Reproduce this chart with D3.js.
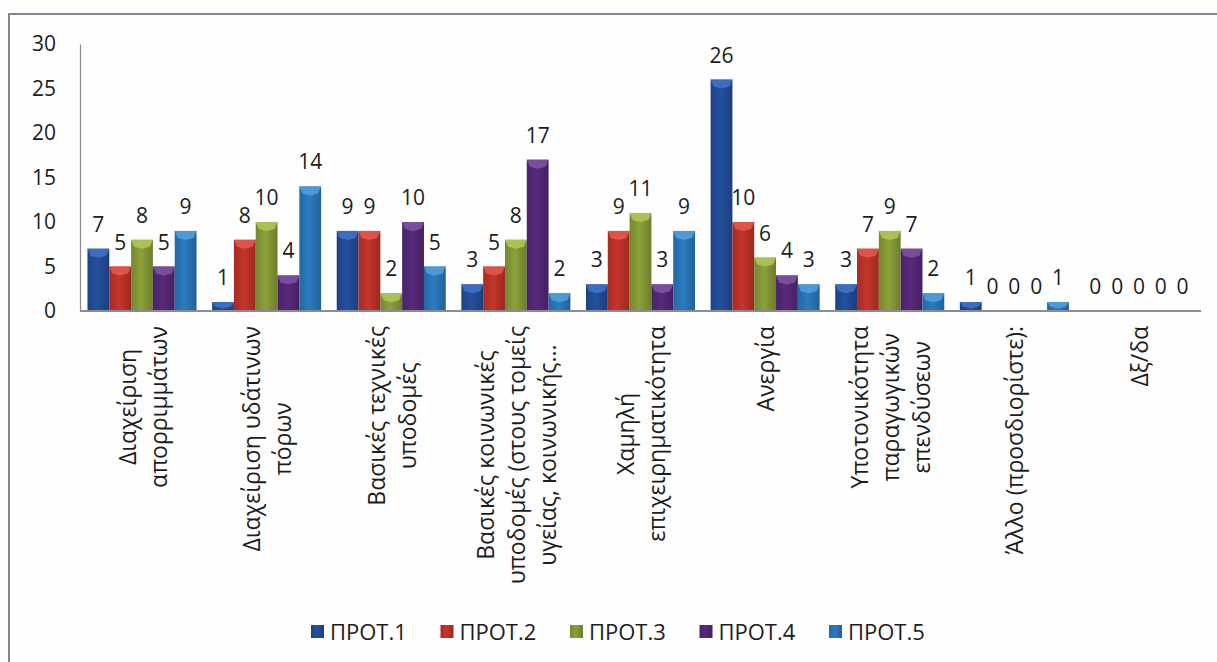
<!DOCTYPE html>
<html lang="el">
<head>
<meta charset="utf-8">
<title>chart</title>
<script src="https://cdn.jsdelivr.net/npm/d3@7/dist/d3.min.js"></script>
<style>
  body { margin: 0; background: #fdfdfd; }
  svg text { font-family: "Open Sans", "Noto Sans", sans-serif; fill: #1c1c1c; font-weight: 500; }
</style>
</head>
<body>
<div id="chart"></div>
<script>
// categories (each entry = lines of the rotated label)
const categories = [
  ["Διαχείριση", "απορριμμάτων"],
  ["Διαχείριση υδάτινων", "πόρων"],
  ["Βασικές τεχνικές", "υποδομές"],
  ["Βασικές κοινωνικές", "υποδομές (στους τομείς", "υγείας, κοινωνικής..."],
  ["Χαμηλή", "επιχειρηματικότητα"],
  ["Ανεργία"],
  ["Υποτονικότητα", "παραγωγικών", "επενδύσεων"],
  ["Άλλο (προσδιορίστε):"],
  ["Δξ/δα"]
];
const seriesNames = ["ΠΡΟΤ.1", "ΠΡΟΤ.2", "ΠΡΟΤ.3", "ΠΡΟΤ.4", "ΠΡΟΤ.5"];
const prot1 = [7, 1, 9, 3, 3, 26, 3, 1, 0];
const prot2 = [5, 8, 9, 5, 9, 10, 7, 0, 0];
const prot3 = [8, 10, 2, 8, 11, 6, 9, 0, 0];
const prot4 = [5, 4, 10, 17, 3, 4, 7, 0, 0];
const prot5 = [9, 14, 5, 2, 9, 3, 2, 1, 0];
const yTicks = [0, 5, 10, 15, 20, 25, 30];

const seriesValues = [prot1, prot2, prot3, prot4, prot5];
const colors = ["#24509f", "#c5352a", "#8ca139", "#58297c", "#2a7cc1"];
const lights = ["#4173c6", "#e35a4d", "#b3c85a", "#8053a6", "#54a0dc"];

const W = 1217, H = 662;
const plotL = 80, plotR = 1201, plotT = 44, plotB = 311;

const svg = d3.select("#chart").append("svg").attr("width", W).attr("height", H);

// scanned frame
svg.append("rect").attr("x", 9).attr("y", 14).attr("width", 1300).attr("height", 800)
  .attr("fill", "#fefefe").attr("stroke", "#8b8393").attr("stroke-width", 2);

const keys = categories.map((c, i) => "c" + i);
const x = d3.scaleBand().domain(keys).range([plotL, plotR]).paddingInner(0.125).paddingOuter(0.06);
const xs = d3.scaleBand().domain(seriesNames).range([0, x.bandwidth()]).padding(0);
const y = d3.scaleLinear().domain([0, 30]).range([plotB, plotT]);

// gradients
const defs = svg.append("defs");
colors.forEach((c, i) => {
  const g = defs.append("linearGradient").attr("id", "g" + i).attr("x1", 0).attr("x2", 1).attr("y1", 0).attr("y2", 0);
  g.append("stop").attr("offset", "0%").attr("stop-color", d3.color(c).darker(0.5));
  g.append("stop").attr("offset", "45%").attr("stop-color", c);
  g.append("stop").attr("offset", "100%").attr("stop-color", d3.color(c).darker(0.7));
});

// y axis
const yAxis = svg.append("g").attr("transform", `translate(${plotL},0)`)
  .call(d3.axisLeft(y).tickValues(yTicks).tickSize(0).tickPadding(24));
yAxis.select(".domain").attr("stroke", "#8a8a8a").attr("stroke-width", 1.2);
yAxis.selectAll("text").style("font-size", "21px").attr("fill", "#1c1c1c");

// bars
const data = [];
categories.forEach((c, ci) => {
  seriesValues.forEach((vals, si) => data.push({ cat: keys[ci], s: si, v: vals[ci] }));
});

const bars = svg.append("g");
bars.selectAll("rect").data(data.filter(d => d.v > 0)).enter().append("rect")
  .attr("x", d => x(d.cat) + xs(seriesNames[d.s]))
  .attr("y", d => y(d.v))
  .attr("width", xs.bandwidth())
  .attr("height", d => y(0) - y(d.v))
  .attr("fill", d => "url(#g" + d.s + ")");

// top bevel
bars.selectAll("path").data(data.filter(d => d.v > 0)).enter().append("path")
  .attr("d", d => {
    const x0 = x(d.cat) + xs(seriesNames[d.s]), x1 = x0 + xs.bandwidth(), t = y(d.v);
    const h = Math.min(7, (y(0) - t) / 2);
    return `M${x0},${t}L${x1},${t}L${x1 - 3},${t + h}L${(x0 + x1) / 2},${t + h + 2}L${x0 + 3},${t + h}Z`;
  })
  .attr("fill", d => lights[d.s]).attr("opacity", 0.85);

// baseline
svg.append("line").attr("x1", plotL).attr("x2", plotR).attr("y1", y(0)).attr("y2", y(0))
  .attr("stroke", "#8a8a9a").attr("stroke-width", 2);

// value labels
svg.append("g").selectAll("text").data(data).enter().append("text")
  .attr("x", d => x(d.cat) + xs(seriesNames[d.s]) + xs.bandwidth() / 2)
  .attr("y", d => y(d.v) - 17)
  .attr("text-anchor", "middle")
  .style("font-size", "21px")
  .text(d => d.v);

// category labels, rotated
const lineGap = 31;
const labTop = 326;
categories.forEach((lines, ci) => {
  const cx = x(keys[ci]) + x.bandwidth() / 2;
  const g = svg.append("g");
  const texts = lines.map((ln, li) => {
    const lx = cx + (li - (lines.length - 1) / 2) * lineGap;
    return g.append("text").attr("text-anchor", "middle").attr("dominant-baseline", "central")
      .style("font-size", "23px").text(ln).datum(lx);
  });
  const maxW = d3.max(texts, t => t.node().getComputedTextLength());
  texts.forEach(t => {
    const lx = t.datum(), ly = labTop + maxW / 2;
    t.attr("transform", `translate(${lx},${ly}) rotate(-90)`);
  });
});

// legend
const legend = svg.append("g");
seriesNames.forEach((name, i) => {
  const lx = 311 + i * 129.5;
  legend.append("rect").attr("x", lx).attr("y", 625).attr("width", 13).attr("height", 13)
    .attr("fill", "url(#g" + i + ")");
  legend.append("text").attr("x", lx + 19).attr("y", 640).style("font-size", "22px").text(name);
});
</script>
</body>
</html>
